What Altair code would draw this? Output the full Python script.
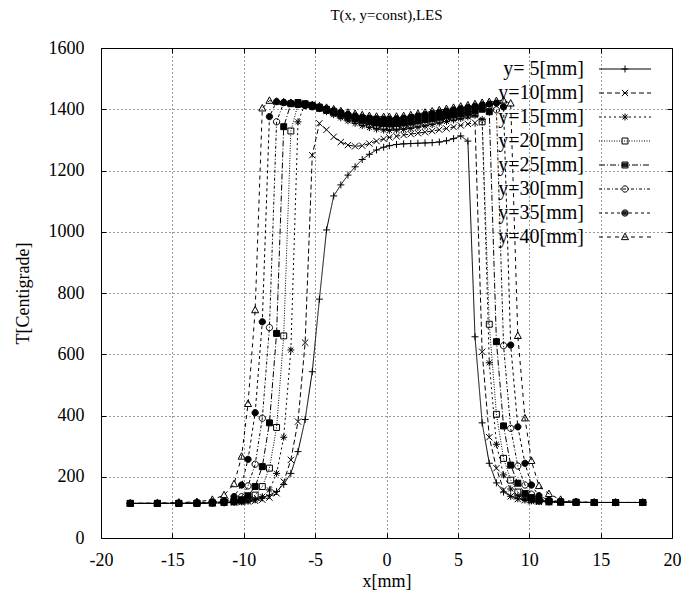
import math
import altair as alt
import pandas as pd

# ---------------- data ----------------
X_MM = [-17.95, -16.05, -14.55, -13.28, -12.2, -11.38, -10.68,
        -10.15, -9.7, -9.2, -8.7, -8.2, -7.7, -7.2, -6.7, -6.2, -5.7, -5.2,
        -4.7, -4.2, -3.7, -3.2, -2.7, -2.2, -1.7, -1.2, -0.7, -0.2,
        0.2, 0.7, 1.2, 1.7, 2.2, 2.7, 3.2, 3.7, 4.2, 4.7, 5.2, 5.7,
        6.2, 6.7, 7.2, 7.7, 8.2, 8.7, 9.2, 9.7, 10.15,
        10.68, 11.38, 12.2, 13.28, 14.55, 16.05, 17.95]

T_Y5 = [113, 113, 113, 113, 114, 115, 117,
        119, 121, 125, 131, 140, 152, 175, 211, 282, 387, 543, 780, 1006, 1117,
        1153, 1185, 1212, 1236, 1253, 1267, 1276,
        1281, 1285, 1287, 1288, 1289, 1290, 1291, 1293, 1297, 1304, 1313, 1296,
        657, 376, 244, 180, 150, 136, 128, 124, 121, 119, 118, 117, 116, 116, 116, 116]
T_Y10 = [113, 113, 113, 113, 114, 115, 116,
         117, 119, 121, 125, 132, 146, 184, 255, 380, 638, 1250, 1354, 1333, 1310,
         1293, 1283, 1279, 1281, 1288, 1296, 1303,
         1308, 1312, 1316, 1319, 1322, 1325, 1329, 1333, 1337, 1342, 1347, 1352,
         1356, 608, 329, 228, 157, 136, 127, 123, 120, 118, 117, 116, 116, 116, 116, 116]
T_Y15 = [113, 113, 113, 113, 114, 115, 117,
         118, 121, 126, 135, 157, 211, 329, 614, 1359, 1418, 1412, 1402, 1392, 1382,
         1372, 1362, 1354, 1346, 1340, 1335, 1332,
         1331, 1332, 1334, 1337, 1341, 1345, 1350, 1355, 1360, 1365, 1370, 1375,
         1380, 1367, 572, 306, 206, 160, 138, 128, 123, 120, 118, 117, 116, 116, 116, 116]
T_Y20 = [113, 113, 113, 113, 114, 116, 118,
         121, 127, 140, 168, 228, 361, 660, 1329, 1416, 1415, 1410, 1403, 1396, 1388,
         1380, 1372, 1364, 1357, 1351, 1347, 1344,
         1343, 1344, 1346, 1349, 1353, 1357, 1361, 1365, 1369, 1373, 1377, 1381,
         1385, 1359, 698, 404, 260, 189, 150, 133, 125, 121, 118, 117, 116, 116, 116, 116]
T_Y25 = [113, 113, 113, 114, 115, 117, 120,
         125, 138, 168, 233, 376, 668, 1343, 1418, 1422, 1418, 1413, 1407, 1400, 1393,
         1386, 1378, 1370, 1364, 1359, 1355, 1353,
         1352, 1353, 1355, 1358, 1362, 1366, 1370, 1374, 1378, 1382, 1386, 1390,
         1395, 1400, 1392, 641, 366, 238, 179, 145, 132, 124, 120, 118, 117, 116, 116, 116]
T_Y30 = [113, 113, 113, 114, 116, 119, 124,
         135, 170, 241, 391, 687, 1359, 1422, 1420, 1416, 1412, 1408, 1403, 1397, 1390,
         1383, 1376, 1370, 1366, 1363, 1361, 1360,
         1360, 1361, 1363, 1366, 1370, 1374, 1378, 1382, 1386, 1390, 1394, 1398,
         1402, 1406, 1410, 1398, 628, 358, 235, 173, 143, 128, 121, 118, 117, 116, 116, 116]
T_Y35 = [113, 113, 114, 115, 118, 122, 135,
         173, 257, 409, 706, 1376, 1425, 1422, 1419, 1416, 1413, 1410, 1406, 1401, 1395,
         1389, 1383, 1378, 1374, 1371, 1369, 1368,
         1368, 1369, 1371, 1374, 1378, 1382, 1386, 1390, 1394, 1398, 1402, 1406,
         1410, 1414, 1417, 1420, 1408, 630, 363, 244, 173, 138, 124, 119, 117, 116, 116, 116]
T_Y40 = [113, 114, 116, 118, 125, 140, 176,
         266, 438, 744, 1403, 1428, 1425, 1423, 1421, 1419, 1417, 1414, 1410, 1405, 1400,
         1394, 1389, 1385, 1381, 1378, 1376, 1375,
         1375, 1376, 1378, 1381, 1385, 1389, 1393, 1397, 1401, 1405, 1409, 1413,
         1417, 1421, 1424, 1427, 1429, 1419, 660, 391, 252, 170, 144, 125, 118, 116, 116, 116]

SERIES = ["y= 5[mm]", "y=10[mm]", "y=15[mm]", "y=20[mm]",
          "y=25[mm]", "y=30[mm]", "y=35[mm]", "y=40[mm]"]
T_ALL = [T_Y5, T_Y10, T_Y15, T_Y20, T_Y25, T_Y30, T_Y35, T_Y40]

X_TICKS = [-20, -15, -10, -5, 0, 5, 10, 15, 20]
Y_TICKS = [0, 200, 400, 600, 800, 1000, 1200, 1400, 1600]

rows = []
for name, ts in zip(SERIES, T_ALL):
    for x, t in zip(X_MM, ts):
        rows.append({"x": x, "T": t, "series": name})
df = pd.DataFrame(rows)

# ---------------- styles ----------------
FONT = "Liberation Serif"
DASHES = [[], [5, 3], [2, 3], [1, 1.5], [6, 2, 1, 2], [3, 2, 1, 2], [3, 3], [4, 4]]
KINDS = ["plus", "cross", "star", "square", "fsquare", "circle", "fcircle", "triangle"]
FILLS = ["transparent", "transparent", "transparent", "transparent",
         "black", "transparent", "black", "transparent"]


def f(v):
    return f"{v:.3f}"


def marker(kind, h, cx=0.0, hatch=False):
    if kind == "plus":
        return f"M{f(cx - h)},0H{f(cx + h)}M{f(cx)},{f(-h)}V{f(h)}"
    if kind == "cross":
        a = 0.9 * h
        return (f"M{f(cx - a)},{f(-a)}L{f(cx + a)},{f(a)}"
                f"M{f(cx - a)},{f(a)}L{f(cx + a)},{f(-a)}")
    if kind == "star":
        a = 0.72 * h
        return (f"M{f(cx - h)},0H{f(cx + h)}M{f(cx)},{f(-h)}V{f(h)}"
                f"M{f(cx - a)},{f(-a)}L{f(cx + a)},{f(a)}"
                f"M{f(cx - a)},{f(a)}L{f(cx + a)},{f(-a)}")
    if kind in ("square", "fsquare"):
        a = 0.85 * h
        p = f"M{f(cx - a)},{f(-a)}H{f(cx + a)}V{f(a)}H{f(cx - a)}Z"
        if hatch and kind == "fsquare":
            for t in (-0.6, -0.3, 0, 0.3, 0.6):
                p += f"M{f(cx - a)},{f(t * a)}H{f(cx + a)}"
        return p
    if kind in ("circle", "fcircle"):
        r = 0.9 * h
        p = (f"M{f(cx - r)},0A{f(r)},{f(r)},0,1,0,{f(cx + r)},0"
             f"A{f(r)},{f(r)},0,1,0,{f(cx - r)},0Z")
        if hatch and kind == "fcircle":
            for t in (-0.6, -0.3, 0, 0.3, 0.6):
                y = t * r
                x = math.sqrt(r * r - y * y)
                p += f"M{f(cx - x)},{f(y)}H{f(cx + x)}"
        return p
    if kind == "triangle":
        return (f"M{f(cx)},{f(-1.1 * h)}L{f(cx + h)},{f(0.75 * h)}"
                f"L{f(cx - h)},{f(0.75 * h)}Z")
    return ""


def dash_line(pattern, half_px, k, cx):
    if not pattern:
        return f"M{f(cx - half_px / k)},0H{f(cx + half_px / k)}"
    out = ""
    pos = -half_px
    i = 0
    while pos < half_px:
        seg = pattern[i % len(pattern)]
        end = min(pos + seg, half_px)
        if i % 2 == 0:
            out += f"M{f(cx + pos / k)},0H{f(cx + end / k)}"
        pos = end
        i += 1
    return out


# plot markers: size 49 -> 3.5 px per unit
MARKERS = [marker(kd, 1.0) for kd in KINDS]
# legend symbols: size 36 -> 3 px per unit; symbol drawn to the right of the label
LEG_K = 3.0
LABEL_OFF = 81
LINE_CENTER_PX = 96 + 13 + 26
SHIFT = (LINE_CENTER_PX - 3) / LEG_K
LEGEND_SYMBOLS = [dash_line(d, 26, LEG_K, SHIFT) + marker(kd, 3.5 / LEG_K, SHIFT, hatch=True)
                  for d, kd in zip(DASHES, KINDS)]
DASH_RANGE = [d if d else [1, 0] for d in DASHES]

xscale = alt.Scale(domain=[-20, 20], nice=False, zero=False)
yscale = alt.Scale(domain=[0, 1600], nice=False, zero=False)

common_axis = dict(
    grid=True, gridDash=[1, 3], gridColor="black", gridWidth=0.8, gridOpacity=1,
    domain=False, ticks=True, tickSize=5, tickColor="black", tickWidth=1, offset=-5,
    labelFont=FONT, labelFontSize=18, labelColor="black", labelFlush=False,
    labelExpr="'' + datum.value",
    titleFont=FONT, titleFontSize=18, titleFontWeight="normal", titleColor="black",
)
xaxis = alt.Axis(values=X_TICKS, title="x[mm]", labelPadding=13, titlePadding=3, **common_axis)
yaxis = alt.Axis(values=Y_TICKS, title="T[Centigrade]", labelPadding=17, titlePadding=16,
                 **common_axis)

X = alt.X("x:Q", scale=xscale, axis=xaxis)
Y = alt.Y("T:Q", scale=yscale, axis=yaxis)

lines = alt.Chart(df).mark_line(strokeWidth=1, color="black").encode(
    x=X, y=Y,
    strokeDash=alt.StrokeDash("series:N", scale=alt.Scale(domain=SERIES, range=DASH_RANGE),
                              legend=None),
)

points = alt.Chart(df).mark_point(filled=True, stroke="black", strokeWidth=1, size=49,
                                  opacity=1).encode(
    x=X, y=Y,
    shape=alt.Shape("series:N", scale=alt.Scale(domain=SERIES, range=MARKERS), legend=None),
    fill=alt.Fill("series:N", scale=alt.Scale(domain=SERIES, range=FILLS), legend=None),
)

mirror_axis = dict(grid=False, domain=False, labels=False, ticks=True, tickSize=5,
                   tickColor="black", tickWidth=1, offset=-5, title=None)

legend_layer = alt.Chart(df).mark_point(opacity=0, filled=False, color="black", size=36).encode(
    x=alt.X("x:Q", scale=xscale, axis=alt.Axis(orient="top", values=X_TICKS, **mirror_axis)),
    y=alt.Y("T:Q", scale=yscale, axis=alt.Axis(orient="right", values=Y_TICKS, **mirror_axis)),
    shape=alt.Shape(
        "series:N",
        scale=alt.Scale(domain=SERIES, range=LEGEND_SYMBOLS),
        legend=alt.Legend(
            title=None, orient="none", legendX=517 - LINE_CENTER_PX, legendY=11,
            labelFont=FONT, labelFontSize=20, labelColor="black",
            labelAlign="right", labelOffset=LABEL_OFF, labelBaseline="middle",
            symbolSize=36, symbolStrokeWidth=1, symbolStrokeColor="black",
            symbolFillColor="transparent", padding=0, rowPadding=4,
        ),
    ),
)

chart = alt.layer(alt.layer(lines, points), legend_layer).resolve_scale(
    x="independent", y="independent", shape="independent"
).properties(
    width=571, height=490,
    padding={"left": 101, "top": 48, "right": 12, "bottom": 57},
    autosize=alt.AutoSizeParams(type="none"),
    title=alt.TitleParams("T(x, y=const),LES", font=FONT, fontSize=15, fontWeight="normal",
                          color="black", anchor="middle", offset=16),
).configure(
    font=FONT,
    style={"guide-label": {"font": FONT}, "guide-title": {"font": FONT}},
).configure_axis(
    labelFont=FONT, titleFont=FONT
).configure_axisX(
    labelFont=FONT, titleFont=FONT
).configure_axisY(
    labelFont=FONT, titleFont=FONT
).configure_axisQuantitative(
    labelFont=FONT, titleFont=FONT
).configure_view(stroke="black", strokeWidth=1)

chart.save("out.html", embed_options={"renderer": "svg", "actions": False})
